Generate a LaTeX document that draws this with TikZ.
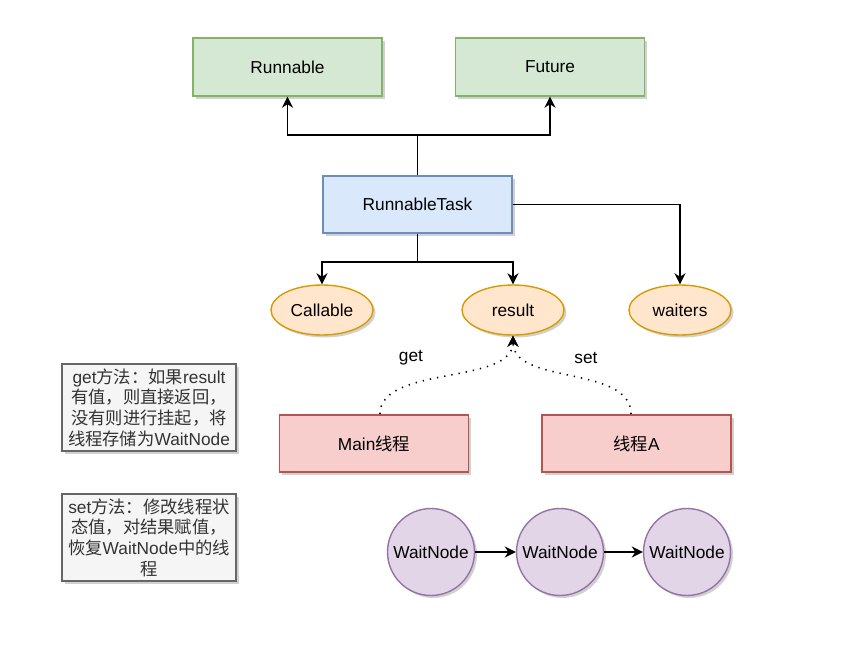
\documentclass[tikz,border=0pt]{standalone}
\usepackage{fontspec}
\setmainfont{Liberation Sans}
\newfontfamily\cjk{Noto Sans CJK SC}
\usetikzlibrary{shapes.geometric,arrows.meta,shadows}
\definecolor{gfill}{HTML}{D5E8D4}\definecolor{gline}{HTML}{82B366}
\definecolor{bfill}{HTML}{DAE8FC}\definecolor{bline}{HTML}{6C8EBF}
\definecolor{ofill}{HTML}{FFE6CC}\definecolor{oline}{HTML}{D79B00}
\definecolor{rfill}{HTML}{F8CECC}\definecolor{rline}{HTML}{B85450}
\definecolor{pfill}{HTML}{E1D5E7}\definecolor{pline}{HTML}{9673A6}
\definecolor{nfill}{HTML}{F5F5F5}\definecolor{nline}{HTML}{666666}
\definecolor{ntext}{HTML}{333333}
\tikzset{
  base/.style={line width=1.4pt, inner sep=0pt, font=\fontsize{17.3}{20.7}\selectfont,
    drop shadow={shadow xshift=2.5pt, shadow yshift=-2.5pt, opacity=0.18, fill=black}},
  greenbox/.style={base, rectangle, fill=gfill, draw=gline, minimum width=189pt, minimum height=58pt},
  bluebox/.style={base, rectangle, fill=bfill, draw=bline, minimum width=189pt, minimum height=57pt},
  redbox/.style={base, rectangle, fill=rfill, draw=rline, minimum width=189pt, minimum height=57pt},
  oval/.style={base, ellipse, fill=ofill, draw=oline, minimum width=102pt, minimum height=50pt},
  waitnode/.style={base, circle, fill=pfill, draw=pline, minimum size=87pt},
  notebox/.style={base, rectangle, fill=nfill, draw=nline, text=ntext, align=center,
    minimum width=174pt, minimum height=87pt, text width=172pt},
  edge/.style={line width=1.8pt, -{Stealth[length=11pt,width=11pt,inset=3.5pt]}},
  plainedge/.style={line width=1.8pt},
  dotedge/.style={line width=1.6pt, dash pattern=on 1.3pt off 6pt,
    -{Stealth[length=11pt,width=11pt,inset=3.5pt]}},
  lbl/.style={inner sep=0pt, font=\fontsize{17.3}{20.7}\selectfont}
}
\begin{document}
\begin{tikzpicture}[x=1pt,y=-1pt]
\useasboundingbox (0,0) rectangle (856,648);
\node[greenbox] (runnable) at (287.5,67) {Runnable};
\node[greenbox] (future) at (550,67) {Future};
\node[bluebox] (rt) at (417.5,204.5) {RunnableTask};
\node[oval] (callable) at (322,310) {Callable};
\node[oval] (result) at (513,310) {result};
\node[oval] (waiters) at (680,310) {waiters};
\node[redbox] (main) at (374,443.5) {Main{\cjk 线程}};
\node[redbox] (ta) at (636.5,443.5) {{\cjk 线程}A};
\node[waitnode] (w1) at (431,552) {WaitNode};
\node[waitnode] (w2) at (560,552) {WaitNode};
\node[waitnode] (w3) at (687,552) {WaitNode};
\node[notebox] (note1) at (149,407.5) {get{\cjk 方法：如果}result\\{\cjk 有值，则直接返回，}\\{\cjk 没有则进行挂起，将}\\{\cjk 线程存储为}WaitNode};
\node[notebox] (note2) at (149,537.5) {set{\cjk 方法：修改线程状}\\{\cjk 态值，对结果赋值，}\\{\cjk 恢复}WaitNode{\cjk 中的线}\\{\cjk 程}};
\coordinate (j1) at (417.5,135);
\coordinate (j2) at (417.5,262);
\draw[plainedge] (rt.north) -- (j1);
\draw[edge] (j1) -| (runnable.south);
\draw[edge] (j1) -| (future.south);
\draw[plainedge] (rt.south) -- (j2);
\draw[edge] (j2) -| (callable.north);
\draw[edge] (j2) -| (result.north);
\draw[edge] (rt.east) -| (waiters.north);
\draw[edge] (w1) -- (w2);
\draw[edge] (w2) -- (w3);
\coordinate (ms) at (380,414);
\coordinate (ts) at (631,414);
\draw[dotedge] (ms) .. controls (380,365) and (513,385) .. (result.south);
\draw[dotedge] (ts) .. controls (631,365) and (513,385) .. (result.south);
\node[lbl] (getl) at (411,357.5) {get};
\node[lbl] (setl) at (586,357.5) {set};
\end{tikzpicture}
\end{document}
